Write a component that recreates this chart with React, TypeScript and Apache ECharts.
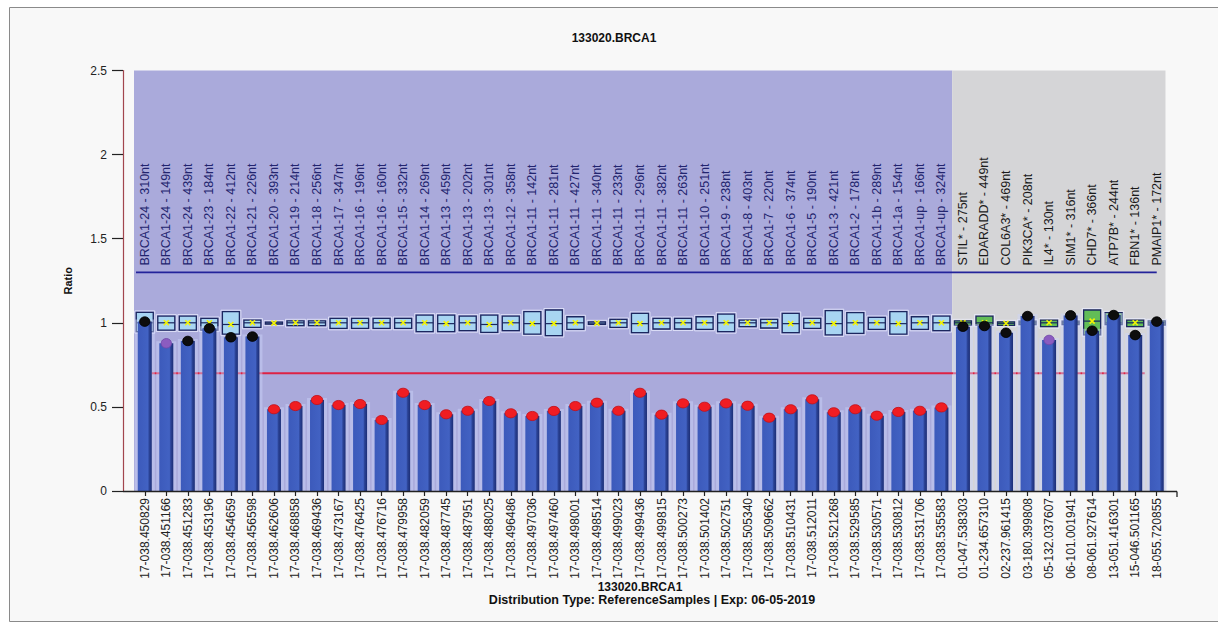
import React, { useEffect, useRef } from "react";
import * as echarts from "echarts";

const probeLabels = [
  "BRCA1-24 - 310nt", "BRCA1-24 - 149nt", "BRCA1-24 - 439nt", "BRCA1-23 - 184nt",
  "BRCA1-22 - 412nt", "BRCA1-21 - 226nt", "BRCA1-20 - 393nt", "BRCA1-19 - 214nt",
  "BRCA1-18 - 256nt", "BRCA1-17 - 347nt", "BRCA1-16 - 196nt", "BRCA1-16 - 160nt",
  "BRCA1-15 - 332nt", "BRCA1-14 - 269nt", "BRCA1-13 - 459nt", "BRCA1-13 - 202nt",
  "BRCA1-13 - 301nt", "BRCA1-12 - 358nt", "BRCA1-11 - 142nt", "BRCA1-11 - 281nt",
  "BRCA1-11 - 427nt", "BRCA1-11 - 340nt", "BRCA1-11 - 233nt", "BRCA1-11 - 296nt",
  "BRCA1-11 - 382nt", "BRCA1-11 - 263nt", "BRCA1-10 - 251nt", "BRCA1-9 - 238nt",
  "BRCA1-8 - 403nt", "BRCA1-7 - 220nt", "BRCA1-6 - 374nt", "BRCA1-5 - 190nt",
  "BRCA1-3 - 421nt", "BRCA1-2 - 178nt", "BRCA1-1b - 289nt", "BRCA1-1a - 154nt",
  "BRCA1-up - 166nt", "BRCA1-up - 324nt",
  "STIL* - 275nt", "EDARADD* - 449nt", "COL6A3* - 469nt", "PIK3CA* - 208nt",
  "IL4* - 130nt", "SIM1* - 316nt", "CHD7* - 366nt", "ATP7B* - 244nt",
  "FBN1* - 136nt", "PMAIP1* - 172nt",
];

const sampleLabels = [
  "17-038.450829", "17-038.451166", "17-038.451283", "17-038.453196", "17-038.454659",
  "17-038.456598", "17-038.462606", "17-038.468858", "17-038.469436", "17-038.473167",
  "17-038.476425", "17-038.476716", "17-038.479958", "17-038.482059", "17-038.487745",
  "17-038.487951", "17-038.488025", "17-038.496486", "17-038.497036", "17-038.497460",
  "17-038.498001", "17-038.498514", "17-038.499023", "17-038.499436", "17-038.499815",
  "17-038.500273", "17-038.501402", "17-038.502751", "17-038.505340", "17-038.509662",
  "17-038.510431", "17-038.512011", "17-038.521268", "17-038.529585", "17-038.530571",
  "17-038.530812", "17-038.531706", "17-038.535583",
  "01-047.538303", "01-234.657310", "02-237.961415", "03-180.399808", "05-132.037607",
  "06-101.001941", "08-061.927614", "13-051.416301", "15-046.501165", "18-055.720855",
];

const ratios = [
  1.007, 0.878, 0.892, 0.967, 0.914, 0.918, 0.486, 0.505, 0.541, 0.511,
  0.517, 0.422, 0.584, 0.511, 0.456, 0.477, 0.535, 0.462, 0.446, 0.476,
  0.505, 0.525, 0.477, 0.584, 0.454, 0.521, 0.501, 0.521, 0.507, 0.436,
  0.486, 0.545, 0.468, 0.486, 0.448, 0.470, 0.477, 0.497,
  0.977, 0.981, 0.941, 1.040, 0.898, 1.044, 0.953, 1.046, 0.927, 1.007,
];

// 0 = black (normal), 1 = red (loss), 2 = purple
const dotTypes = [
  0, 2, 0, 0, 0, 0, 1, 1, 1, 1, 1, 1, 1, 1, 1, 1, 1, 1, 1, 1,
  1, 1, 1, 1, 1, 1, 1, 1, 1, 1, 1, 1, 1, 1, 1, 1, 1, 1,
  0, 0, 0, 0, 2, 0, 0, 0, 0, 0,
];

const boxLow = [
  0.947, 0.957, 0.957, 0.957, 0.933, 0.973, 0.992, 0.983, 0.983, 0.967,
  0.967, 0.967, 0.967, 0.947, 0.947, 0.953, 0.943, 0.953, 0.933, 0.924,
  0.961, 0.991, 0.973, 0.941, 0.963, 0.963, 0.961, 0.947, 0.977, 0.969,
  0.941, 0.967, 0.928, 0.937, 0.961, 0.933, 0.961, 0.953,
  0.985, 0.987, 0.985, 0.99, 0.977, 0.99, 0.928, 0.99, 0.977, 0.987,
];

const boxHigh = [
  1.062, 1.040, 1.040, 1.026, 1.066, 1.016, 1.004, 1.012, 1.012, 1.026,
  1.026, 1.026, 1.026, 1.046, 1.046, 1.040, 1.046, 1.040, 1.066, 1.076,
  1.036, 1.006, 1.020, 1.056, 1.026, 1.026, 1.036, 1.052, 1.016, 1.020,
  1.056, 1.026, 1.072, 1.060, 1.032, 1.066, 1.036, 1.040,
  1.012, 1.040, 1.006, 1.01, 1.016, 1.01, 1.076, 1.06, 1.016, 1.012,
];

const boxMedian = [
  1.0, 1.0, 1.0, 1.0, 0.99, 1.0, 0.998, 1.0, 1.0, 1.0,
  1.0, 1.0, 1.0, 1.0, 0.995, 1.0, 0.99, 1.0, 0.995, 0.995,
  1.0, 0.998, 1.0, 0.995, 1.0, 1.0, 1.0, 1.0, 1.0, 1.0,
  0.995, 1.0, 0.995, 1.0, 1.0, 0.995, 1.0, 1.0,
  1.0, 1.0, 0.997, 1.0, 1.0, 1.0, 1.01, 1.0, 1.0, 1.0,
];

// category index spans: reference probes / control probes
const regionSpans = [
  [0, 37],
  [38, 47],
];

const upperThreshold = 1.3;
const lowerThreshold = 0.7;
const probeLabelBase = 1.34;
const yMin = 0;
const yMax = 2.5;
const yInterval = 0.5;

const FONT = 'Arial, "Liberation Sans", sans-serif';

export default function App() {
  const ref = useRef<HTMLDivElement>(null);

  useEffect(() => {
    if (!ref.current) return;
    const chart = echarts.init(ref.current, undefined, { renderer: "svg" });
    const n = sampleLabels.length;
    const controlStart = regionSpans[1][0];

    const option: any = {
      animation: false,
      backgroundColor: "#ffffff",
      title: {
        text: "133020.BRCA1",
        left: 609,
        textAlign: "center",
        top: 27,
        textStyle: { fontFamily: FONT, fontSize: 12, fontWeight: "bold", color: "#111" },
      },
      graphic: [
        {
          type: "rect",
          z: -10,
          silent: true,
          shape: { x: 9.5, y: 7.5, width: 1230, height: 614 },
          style: { fill: "#f8f8f8", stroke: "#8a8a8a", lineWidth: 1 },
        },
        {
          type: "line",
          z: 50,
          shape: { x1: 123, y1: 491.5, x2: 1177, y2: 491.5 },
          style: { stroke: "#222", lineWidth: 1.3 },
        },
        {
          type: "line",
          z: 50,
          shape: { x1: 1177, y1: 491.5, x2: 1177, y2: 497 },
          style: { stroke: "#222", lineWidth: 1.3 },
        },
        {
          type: "text",
          z: 50,
          x: 640,
          y: 581,
          style: {
            text: "133020.BRCA1",
            align: "center",
            verticalAlign: "top",
            font: `bold 12px ${FONT}`,
            fill: "#111",
          },
        },
        {
          type: "text",
          z: 50,
          x: 652,
          y: 593,
          style: {
            text: "Distribution Type: ReferenceSamples | Exp: 06-05-2019",
            align: "center",
            verticalAlign: "top",
            font: `bold 12.5px ${FONT}`,
            fill: "#111",
          },
        },
      ],
      grid: { left: 134, right: 50.5, top: 70.5, bottom: 138, containLabel: false },
      xAxis: {
        type: "category",
        data: sampleLabels,
        boundaryGap: true,
        axisLine: { show: false },
        axisTick: { show: true, alignWithLabel: true, length: 5, lineStyle: { color: "#222", width: 1.2 } },
        axisLabel: {
          interval: 0,
          rotate: 90,
          margin: 7,
          fontSize: 12,
          fontFamily: FONT,
          color: "#222",
        },
        splitLine: { show: false },
      },
      yAxis: {
        type: "value",
        min: yMin,
        max: yMax,
        interval: yInterval,
        offset: 11,
        name: "Ratio",
        nameLocation: "middle",
        nameRotate: 90,
        nameGap: 50,
        nameTextStyle: { fontFamily: FONT, fontSize: 11, fontWeight: "bold", color: "#111" },
        axisLine: { show: true, lineStyle: { color: "#a2454e", width: 1.2 } },
        axisTick: { show: true, length: 11, lineStyle: { color: "#222", width: 1.2 } },
        axisLabel: {
          margin: 16,
          fontSize: 12,
          fontFamily: FONT,
          color: "#222",
          formatter: (v: number) => String(v),
        },
        splitLine: { show: false },
      },
      series: [
        {
          name: "regions",
          type: "custom",
          z: 1,
          clip: false,
          silent: true,
          data: regionSpans.map((s, k) => [s[0], s[1], k]),
          renderItem: (params: any, api: any) => {
            const s = api.value(0);
            const e = api.value(1);
            const k = api.value(2);
            const band = api.size([1, 0])[0];
            const p0 = api.coord([s, yMax]);
            const p1 = api.coord([e, yMin]);
            const extra = k === 1 ? -2 : 0;
            return {
              type: "rect",
              shape: {
                x: p0[0] - band / 2,
                y: p0[1],
                width: p1[0] - p0[0] + band + extra,
                height: p1[1] - p0[1],
              },
              style: { fill: k === 0 ? "#aaaadb" : "#d5d5d7" },
            };
          },
        },
        {
          name: "thresholds",
          type: "custom",
          z: 2,
          clip: false,
          silent: true,
          data: [
            [0, n - 1, upperThreshold, 0],
            [0, n - 1, lowerThreshold, 1],
          ],
          renderItem: (params: any, api: any) => {
            const s = api.value(0);
            const e = api.value(1);
            const v = api.value(2);
            const k = api.value(3);
            const band = api.size([1, 0])[0];
            const a = api.coord([s, v]);
            const b = api.coord([e, v]);
            const x1 = k === 0 ? a[0] - band / 2 + 2 : a[0] + 7;
            const x2 = k === 0 ? b[0] : b[0] - 12;
            return {
              type: "line",
              shape: { x1, y1: a[1], x2, y2: b[1] },
              style: { stroke: k === 0 ? "#23239a" : "#dd2244", lineWidth: 1.8 },
            };
          },
        },
        {
          name: "probeLabels",
          type: "custom",
          z: 3,
          clip: false,
          silent: true,
          data: probeLabels.map((t, i) => [i, probeLabelBase]),
          renderItem: (params: any, api: any) => {
            const i = api.value(0);
            const p = api.coord([i, api.value(1)]);
            return {
              type: "text",
              x: p[0],
              y: p[1],
              rotation: Math.PI / 2,
              style: {
                text: probeLabels[i],
                align: "left",
                verticalAlign: "middle",
                font: `12.5px ${FONT}`,
                fill: i < controlStart ? "#22246e" : "#1a1a1a",
              },
            };
          },
        },
        {
          name: "boxes",
          type: "custom",
          z: 4,
          clip: false,
          silent: true,
          data: boxLow.map((lo, i) => [i, lo, boxHigh[i], boxMedian[i], i >= controlStart ? 1 : 0]),
          renderItem: (params: any, api: any) => {
            const i = api.value(0);
            const lo = api.value(1);
            const hi = api.value(2);
            const med = api.value(3);
            const g = api.value(4);
            const top = api.coord([i, hi]);
            const bot = api.coord([i, lo]);
            const m = api.coord([i, med]);
            const w = 17;
            const x0 = top[0] - w / 2;
            const h = Math.max(bot[1] - top[1], 2);
            const cx = top[0];
            return {
              type: "group",
              children: [
                {
                  type: "rect",
                  shape: { x: x0 - 1.5, y: top[1] - 1.5, width: w + 3, height: h + 3 },
                  style: { fill: "none", stroke: "rgba(235,238,255,0.75)", lineWidth: 1 },
                },
                {
                  type: "rect",
                  shape: { x: x0, y: top[1], width: w, height: h },
                  style: { fill: g ? "#62bd57" : "#a8d5f2", stroke: "#1b275f", lineWidth: 1.3 },
                },
                {
                  type: "line",
                  shape: { x1: x0, y1: m[1], x2: x0 + w, y2: m[1] },
                  style: { stroke: "#1b275f", lineWidth: 1.2 },
                },
                {
                  type: "line",
                  shape: { x1: cx - 2.5, y1: m[1] - 2.5, x2: cx + 2.5, y2: m[1] + 2.5 },
                  style: { stroke: "#f4f400", lineWidth: 1.6 },
                },
                {
                  type: "line",
                  shape: { x1: cx - 2.5, y1: m[1] + 2.5, x2: cx + 2.5, y2: m[1] - 2.5 },
                  style: { stroke: "#f4f400", lineWidth: 1.6 },
                },
              ],
            };
          },
        },
        {
          name: "ratio",
          type: "custom",
          z: 5,
          clip: false,
          silent: true,
          data: ratios.map((v, i) => [i, v]),
          renderItem: (params: any, api: any) => {
            const i = api.value(0);
            const v = api.value(1);
            const top = api.coord([i, v]);
            const base = api.coord([i, yMin]);
            const w = 14;
            const x0 = top[0] - w / 2;
            return {
              type: "group",
              children: [
                {
                  type: "rect",
                  shape: { x: x0 - 3, y: top[1] - 2, width: w + 6, height: base[1] - top[1] + 2 },
                  style: { fill: "rgba(205,212,250,0.45)" },
                },
                {
                  type: "rect",
                  shape: { x: x0, y: top[1], width: w, height: base[1] - top[1] },
                  style: {
                    fill: {
                      type: "linear",
                      x: 0,
                      y: 0,
                      x2: 1,
                      y2: 0,
                      colorStops: [
                        { offset: 0, color: "#3c5abb" },
                        { offset: 0.72, color: "#4262c3" },
                        { offset: 0.82, color: "#2b4396" },
                        { offset: 1, color: "#1c2e76" },
                      ],
                    },
                  },
                },
              ],
            };
          },
        },
        {
          name: "ratioDots",
          type: "custom",
          z: 6,
          clip: false,
          silent: true,
          data: ratios.map((v, i) => [i, v, dotTypes[i]]),
          renderItem: (params: any, api: any) => {
            const i = api.value(0);
            const v = api.value(1);
            const t = api.value(2);
            const p = api.coord([i, v]);
            const fill = t === 1 ? "#f01d22" : t === 2 ? "#8b5cc0" : "#0d0d0d";
            const stroke = t === 1 ? "#c0101a" : t === 2 ? "#7048a8" : "#000";
            return {
              type: "ellipse",
              shape: { cx: p[0], cy: p[1], rx: t === 1 ? 5.8 : 5.2, ry: t === 1 ? 4.6 : 4.8 },
              style: { fill, stroke, lineWidth: 0.8 },
            };
          },
        },
      ],
    };

    chart.setOption(option);
    return () => chart.dispose();
  }, []);

  return (
    <div
      ref={ref}
      style={{ position: "absolute", left: 0, top: 0, width: 1218, height: 629 }}
    />
  );
}
